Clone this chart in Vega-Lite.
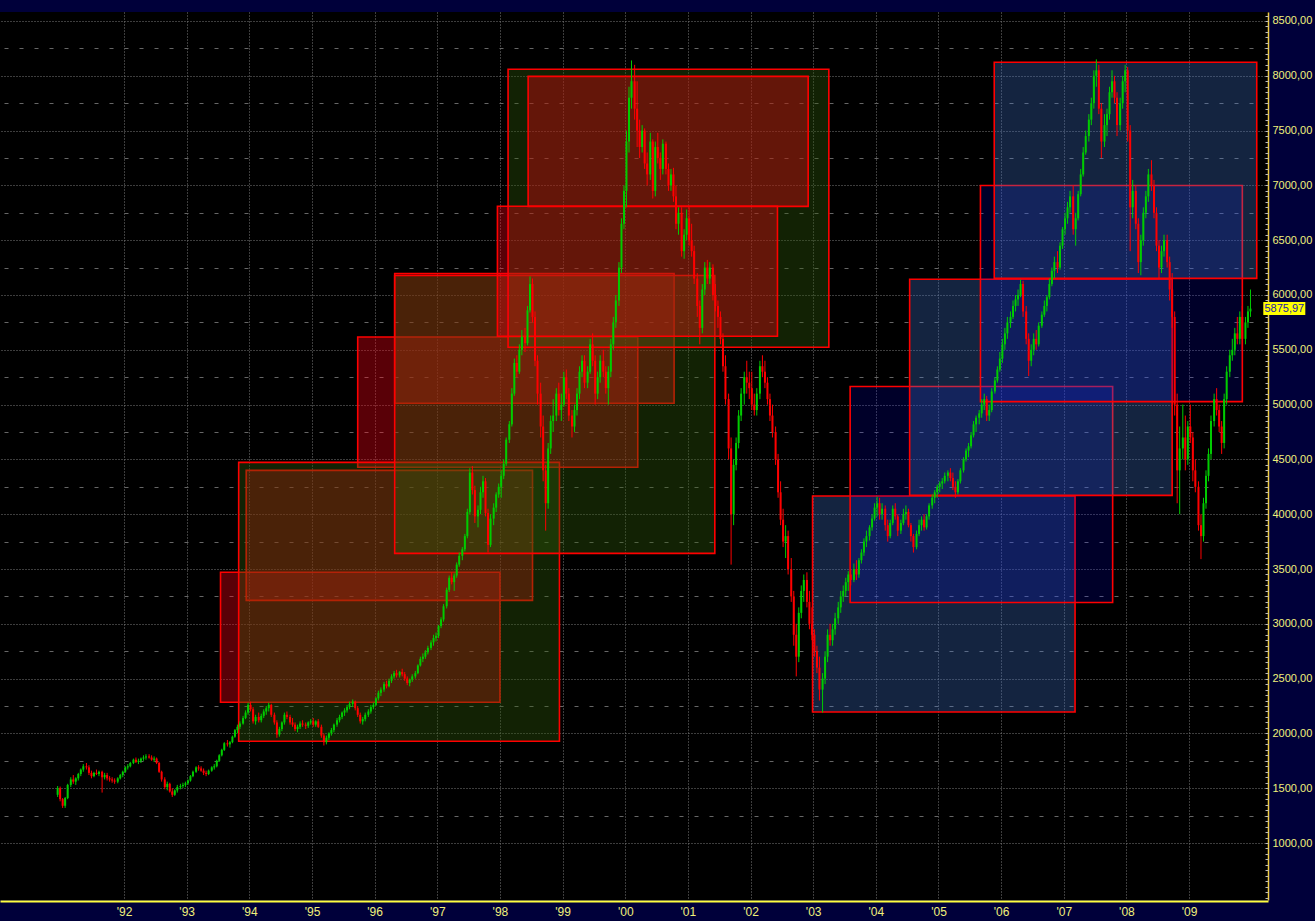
{
  "$schema": "https://vega.github.io/schema/vega-lite/v6.json",
  "width": 1268,
  "height": 888,
  "autosize": "none",
  "padding": {"left": 0, "top": 12, "right": 47, "bottom": 21},
  "background": "#00003a",
  "config": {
    "view": {"fill": "#000000", "stroke": null},
    "axis": {"title": null, "labelFont": "Liberation Sans", "labelFontSize": 11, "labelColor": "#f0f07a"}
  },
  "data": {
    "values": "t,o,h,l,c\n1990.94,1440,1520,1420,1500\n1990.98,1500,1515,1380,1400\n1991.02,1400,1410,1320,1340\n1991.06,1340,1420,1320,1410\n1991.10,1410,1540,1400,1530\n1991.15,1530,1600,1510,1580\n1991.19,1580,1620,1540,1560\n1991.23,1560,1600,1530,1590\n1991.27,1590,1640,1570,1630\n1991.31,1630,1680,1610,1670\n1991.35,1670,1720,1650,1700\n1991.40,1700,1730,1670,1690\n1991.44,1690,1710,1620,1640\n1991.48,1640,1660,1590,1610\n1991.52,1610,1650,1600,1640\n1991.56,1640,1670,1620,1630\n1991.60,1630,1660,1610,1650\n1991.65,1650,1660,1460,1600\n1991.69,1600,1640,1580,1620\n1991.73,1620,1640,1570,1590\n1991.77,1590,1610,1560,1580\n1991.81,1580,1600,1550,1570\n1991.85,1570,1590,1540,1560\n1991.90,1560,1600,1545,1590\n1991.94,1590,1630,1580,1620\n1991.98,1620,1660,1600,1650\n1992.02,1650,1700,1640,1690\n1992.06,1690,1720,1670,1700\n1992.10,1700,1740,1690,1730\n1992.15,1730,1770,1720,1760\n1992.19,1760,1780,1730,1740\n1992.23,1740,1770,1720,1750\n1992.27,1750,1780,1730,1770\n1992.31,1770,1800,1750,1780\n1992.35,1780,1810,1760,1790\n1992.40,1790,1810,1770,1780\n1992.44,1780,1800,1750,1760\n1992.48,1760,1790,1740,1770\n1992.52,1770,1780,1720,1730\n1992.56,1730,1740,1640,1650\n1992.60,1650,1660,1560,1580\n1992.65,1580,1600,1490,1510\n1992.69,1510,1560,1480,1540\n1992.73,1540,1550,1460,1470\n1992.77,1470,1500,1420,1440\n1992.81,1440,1490,1430,1480\n1992.85,1480,1530,1460,1510\n1992.90,1510,1540,1490,1520\n1992.94,1520,1550,1500,1530\n1992.98,1530,1560,1510,1545\n1993.02,1545,1580,1530,1570\n1993.06,1570,1620,1560,1610\n1993.10,1610,1660,1600,1650\n1993.15,1650,1700,1640,1690\n1993.19,1690,1710,1660,1680\n1993.23,1680,1700,1650,1660\n1993.27,1660,1680,1620,1640\n1993.31,1640,1660,1610,1630\n1993.35,1630,1670,1620,1660\n1993.40,1660,1700,1650,1690\n1993.44,1690,1720,1670,1700\n1993.48,1700,1760,1690,1750\n1993.52,1750,1810,1740,1800\n1993.56,1800,1860,1790,1850\n1993.60,1850,1920,1840,1910\n1993.65,1910,1940,1880,1900\n1993.69,1900,1930,1870,1920\n1993.73,1920,1980,1910,1970\n1993.77,1970,2040,1960,2030\n1993.81,2030,2080,2000,2060\n1993.85,2060,2110,2040,2090\n1993.90,2090,2160,2080,2140\n1993.94,2140,2210,2130,2190\n1993.98,2190,2280,2170,2260\n1994.02,2260,2290,2200,2220\n1994.06,2220,2240,2090,2110\n1994.10,2110,2170,2080,2150\n1994.15,2150,2190,2100,2120\n1994.19,2120,2180,2100,2160\n1994.23,2160,2220,2140,2200\n1994.27,2200,2250,2170,2230\n1994.31,2230,2280,2200,2260\n1994.35,2260,2270,2150,2170\n1994.40,2170,2190,2080,2100\n1994.44,2100,2120,1960,1990\n1994.48,1990,2060,1970,2040\n1994.52,2040,2110,2020,2100\n1994.56,2100,2190,2080,2170\n1994.60,2170,2200,2130,2150\n1994.65,2150,2170,2080,2100\n1994.69,2100,2140,2060,2080\n1994.73,2080,2100,2020,2040\n1994.77,2040,2080,2010,2060\n1994.81,2060,2110,2040,2090\n1994.85,2090,2120,2060,2080\n1994.90,2080,2100,2040,2070\n1994.94,2070,2110,2050,2100\n1994.98,2100,2130,2080,2110\n1995.02,2110,2140,2060,2080\n1995.06,2080,2120,2060,2110\n1995.10,2110,2130,2050,2060\n1995.15,2060,2080,1960,1980\n1995.19,1980,2000,1890,1920\n1995.23,1920,1980,1900,1960\n1995.27,1960,2010,1940,2000\n1995.31,2000,2050,1980,2030\n1995.35,2030,2090,2010,2080\n1995.40,2080,2140,2060,2120\n1995.44,2120,2170,2100,2150\n1995.48,2150,2200,2130,2190\n1995.52,2190,2230,2160,2210\n1995.56,2210,2260,2190,2240\n1995.60,2240,2290,2220,2270\n1995.65,2270,2310,2240,2290\n1995.69,2290,2300,2210,2230\n1995.73,2230,2250,2150,2170\n1995.77,2170,2190,2090,2110\n1995.81,2110,2150,2080,2130\n1995.85,2130,2190,2110,2170\n1995.90,2170,2220,2150,2200\n1995.94,2200,2260,2180,2240\n1995.98,2240,2280,2220,2260\n1996.02,2260,2330,2250,2320\n1996.06,2320,2390,2300,2370\n1996.10,2370,2420,2340,2400\n1996.15,2400,2470,2380,2450\n1996.19,2450,2480,2410,2430\n1996.23,2430,2500,2420,2480\n1996.27,2480,2540,2460,2520\n1996.31,2520,2570,2500,2550\n1996.35,2550,2580,2510,2530\n1996.40,2530,2570,2510,2560\n1996.44,2560,2590,2520,2540\n1996.48,2540,2560,2480,2500\n1996.52,2500,2520,2440,2460\n1996.56,2460,2500,2430,2490\n1996.60,2490,2540,2470,2520\n1996.65,2520,2570,2500,2550\n1996.69,2550,2630,2540,2620\n1996.73,2620,2700,2610,2680\n1996.77,2680,2730,2650,2700\n1996.81,2700,2760,2680,2740\n1996.85,2740,2800,2720,2780\n1996.90,2780,2850,2760,2830\n1996.94,2830,2900,2800,2870\n1996.98,2870,2920,2840,2890\n1997.02,2890,2990,2870,2980\n1997.06,2980,3060,2960,3040\n1997.10,3040,3180,3020,3160\n1997.15,3160,3330,3140,3310\n1997.19,3310,3440,3290,3420\n1997.23,3420,3470,3360,3380\n1997.27,3380,3460,3300,3440\n1997.31,3440,3560,3420,3540\n1997.35,3540,3650,3520,3620\n1997.40,3620,3700,3580,3680\n1997.44,3680,3820,3660,3800\n1997.48,3800,4050,3780,4020\n1997.52,4020,4420,4000,4380\n1997.56,4380,4440,4180,4220\n1997.60,4220,4260,3920,3980\n1997.65,3980,4080,3880,4040\n1997.69,4040,4250,4000,4200\n1997.73,4200,4350,4150,4300\n1997.77,4300,4330,3980,4010\n1997.81,4010,4050,3650,3720\n1997.85,3720,4000,3700,3960\n1997.90,3960,4100,3900,4060\n1997.94,4060,4200,4020,4180\n1997.98,4180,4280,4150,4250\n1998.02,4250,4400,4150,4350\n1998.06,4350,4500,4320,4460\n1998.10,4460,4700,4440,4680\n1998.15,4680,4850,4650,4820\n1998.19,4820,5150,4800,5100\n1998.23,5100,5420,5080,5380\n1998.27,5380,5450,5250,5300\n1998.31,5300,5550,5280,5500\n1998.35,5500,5680,5450,5620\n1998.40,5620,5700,5480,5560\n1998.44,5560,5900,5540,5860\n1998.48,5860,6170,5840,6100\n1998.52,6100,6150,5750,5800\n1998.56,5800,5850,5350,5400\n1998.60,5400,5450,5000,5100\n1998.65,5100,5200,4700,4800\n1998.69,4800,4900,4300,4400\n1998.73,4400,4450,3850,4100\n1998.77,4100,4650,4050,4600\n1998.81,4600,4900,4550,4850\n1998.85,4850,5050,4750,4900\n1998.90,4900,5150,4850,5100\n1998.94,5100,5200,4900,4950\n1998.98,4950,5100,4850,5000\n1999.02,5000,5300,4980,5250\n1999.06,5250,5320,5050,5100\n1999.10,5100,5150,4850,4900\n1999.15,4900,4950,4700,4800\n1999.19,4800,5000,4750,4950\n1999.23,4950,5150,4900,5100\n1999.27,5100,5350,5050,5300\n1999.31,5300,5450,5250,5400\n1999.35,5400,5450,5150,5200\n1999.40,5200,5350,5150,5300\n1999.44,5300,5600,5280,5550\n1999.48,5550,5650,5350,5400\n1999.52,5400,5450,5000,5100\n1999.56,5100,5300,5050,5250\n1999.60,5250,5450,5200,5400\n1999.65,5400,5500,5250,5300\n1999.69,5300,5350,5100,5150\n1999.73,5150,5350,5000,5300\n1999.77,5300,5600,5250,5550\n1999.81,5550,5800,5500,5750\n1999.85,5750,6000,5700,5950\n1999.90,5950,6300,5900,6250\n1999.94,6250,6700,6200,6650\n1999.98,6650,7000,6600,6950\n2000.02,6950,7500,6800,7400\n2000.06,7400,7900,7300,7800\n2000.10,7800,8140,7700,7950\n2000.15,7950,8100,7600,7700\n2000.19,7700,7950,7350,7500\n2000.23,7500,7600,7250,7350\n2000.27,7350,7550,7300,7500\n2000.31,7500,7520,7150,7200\n2000.35,7200,7300,7000,7100\n2000.40,7100,7480,7050,7400\n2000.44,7400,7420,6880,6950\n2000.48,6950,7400,6900,7350\n2000.52,7350,7480,7200,7250\n2000.56,7250,7300,7050,7150\n2000.60,7150,7420,7100,7380\n2000.65,7380,7400,7100,7150\n2000.69,7150,7200,6950,7000\n2000.73,7000,7150,6950,7100\n2000.77,7100,7160,6850,6900\n2000.81,6900,7000,6600,6650\n2000.85,6650,6800,6550,6750\n2000.90,6750,6800,6350,6400\n2000.94,6400,6600,6330,6550\n2000.98,6550,6780,6500,6700\n2001.02,6700,6800,6450,6500\n2001.06,6500,6650,6350,6400\n2001.10,6400,6450,6100,6150\n2001.15,6150,6200,5800,5900\n2001.19,5900,5950,5550,5700\n2001.23,5700,6100,5650,6050\n2001.27,6050,6300,6000,6250\n2001.31,6250,6320,6100,6150\n2001.35,6150,6300,6100,6250\n2001.40,6250,6280,5950,6000\n2001.44,6000,6100,5850,5900\n2001.48,5900,5950,5700,5800\n2001.52,5800,5850,5550,5600\n2001.56,5600,5650,5300,5350\n2001.60,5350,5450,5000,5050\n2001.65,5050,5100,4500,4600\n2001.69,4600,4700,3540,4000\n2001.73,4000,4500,3900,4450\n2001.77,4450,4700,4400,4650\n2001.81,4650,4950,4600,4900\n2001.85,4900,5150,4850,5100\n2001.90,5100,5300,5000,5250\n2001.94,5250,5400,5100,5200\n2001.98,5200,5300,5050,5150\n2002.02,5150,5300,4950,5000\n2002.06,5000,5100,4900,4950\n2002.10,4950,5150,4900,5100\n2002.15,5100,5400,5050,5350\n2002.19,5350,5450,5250,5300\n2002.23,5300,5400,5150,5200\n2002.27,5200,5250,5000,5050\n2002.31,5050,5100,4850,4900\n2002.35,4900,5000,4700,4750\n2002.40,4750,4800,4450,4500\n2002.44,4500,4550,4150,4200\n2002.48,4200,4300,3900,3950\n2002.52,3950,4050,3700,3750\n2002.56,3750,3900,3600,3800\n2002.60,3800,3850,3450,3500\n2002.65,3500,3600,3200,3250\n2002.69,3250,3300,2800,2900\n2002.73,2900,3000,2520,2700\n2002.77,2700,3150,2650,3100\n2002.81,3100,3350,3050,3300\n2002.85,3300,3450,3200,3400\n2002.90,3400,3470,3150,3200\n2002.94,3200,3300,2950,3000\n2002.98,3000,3150,2850,2900\n2003.02,2900,2950,2700,2750\n2003.06,2750,2800,2550,2600\n2003.10,2600,2700,2300,2400\n2003.15,2400,2550,2190,2500\n2003.19,2500,2750,2450,2700\n2003.23,2700,2950,2650,2900\n2003.27,2900,3000,2800,2850\n2003.31,2850,3000,2800,2950\n2003.35,2950,3100,2900,3050\n2003.40,3050,3200,3000,3150\n2003.44,3150,3300,3100,3250\n2003.48,3250,3350,3200,3300\n2003.52,3300,3420,3250,3380\n2003.56,3380,3480,3300,3450\n2003.60,3450,3500,3350,3400\n2003.65,3400,3550,3380,3500\n2003.69,3500,3580,3400,3450\n2003.73,3450,3600,3420,3580\n2003.77,3580,3680,3550,3650\n2003.81,3650,3780,3620,3750\n2003.85,3750,3850,3700,3800\n2003.90,3800,3900,3760,3880\n2003.94,3880,4000,3850,3960\n2003.98,3960,4100,3940,4060\n2004.02,4060,4160,3980,4100\n2004.06,4100,4150,3950,4000\n2004.10,4000,4100,3950,4050\n2004.15,4050,4080,3850,3900\n2004.19,3900,3950,3750,3800\n2004.23,3800,3950,3780,3920\n2004.27,3920,4080,3900,4050\n2004.31,4050,4100,3950,3980\n2004.35,3980,4000,3800,3850\n2004.40,3850,3950,3820,3920\n2004.44,3920,4050,3900,4000\n2004.48,4000,4080,3950,4020\n2004.52,4020,4050,3880,3900\n2004.56,3900,3920,3750,3800\n2004.60,3800,3820,3650,3700\n2004.65,3700,3850,3680,3820\n2004.69,3820,3950,3800,3900\n2004.73,3900,3980,3850,3950\n2004.77,3950,4000,3850,3880\n2004.81,3880,4000,3860,3980\n2004.85,3980,4100,3950,4080\n2004.90,4080,4180,4050,4150\n2004.94,4150,4220,4100,4200\n2004.98,4200,4270,4150,4250\n2005.02,4250,4300,4200,4280\n2005.06,4280,4330,4230,4300\n2005.10,4300,4380,4280,4350\n2005.15,4350,4400,4300,4380\n2005.19,4380,4420,4300,4330\n2005.23,4330,4380,4220,4250\n2005.27,4250,4300,4150,4200\n2005.31,4200,4320,4180,4300\n2005.35,4300,4420,4280,4400\n2005.40,4400,4520,4380,4500\n2005.44,4500,4600,4480,4580\n2005.48,4580,4650,4520,4620\n2005.52,4620,4750,4600,4720\n2005.56,4720,4850,4700,4820\n2005.60,4820,4900,4750,4880\n2005.65,4880,4950,4820,4920\n2005.69,4920,5050,4880,5000\n2005.73,5000,5100,4950,5050\n2005.77,5050,5080,4850,4900\n2005.81,4900,5000,4850,4950\n2005.85,4950,5150,4930,5120\n2005.90,5120,5250,5100,5220\n2005.94,5220,5350,5200,5320\n2005.98,5320,5480,5300,5420\n2006.02,5420,5600,5380,5550\n2006.06,5550,5700,5500,5650\n2006.10,5650,5800,5600,5750\n2006.15,5750,5850,5700,5800\n2006.19,5800,5950,5780,5900\n2006.23,5900,6000,5850,5960\n2006.27,5960,6050,5900,6000\n2006.31,6000,6140,5980,6100\n2006.35,6100,6130,5800,5850\n2006.40,5850,5900,5550,5600\n2006.44,5600,5650,5260,5400\n2006.48,5400,5550,5350,5500\n2006.52,5500,5650,5450,5600\n2006.56,5600,5680,5500,5550\n2006.60,5550,5750,5530,5720\n2006.65,5720,5850,5700,5820\n2006.69,5820,5950,5800,5900\n2006.73,5900,6000,5850,5980\n2006.77,5980,6150,5960,6100\n2006.81,6100,6250,6080,6220\n2006.85,6220,6350,6150,6300\n2006.90,6300,6400,6200,6250\n2006.94,6250,6480,6230,6450\n2006.98,6450,6620,6420,6600\n2007.02,6600,6750,6550,6700\n2007.06,6700,6850,6650,6800\n2007.10,6800,6950,6750,6900\n2007.15,6900,7000,6550,6600\n2007.19,6600,6750,6450,6700\n2007.23,6700,6950,6680,6920\n2007.27,6920,7150,6900,7100\n2007.31,7100,7350,7080,7300\n2007.35,7300,7500,7280,7450\n2007.40,7450,7650,7400,7600\n2007.44,7600,7800,7550,7750\n2007.48,7750,8050,7700,8000\n2007.52,8000,8150,7900,8050\n2007.56,8050,8100,7650,7700\n2007.60,7700,7750,7250,7400\n2007.65,7400,7650,7350,7550\n2007.69,7550,7700,7450,7650\n2007.73,7650,7900,7600,7850\n2007.77,7850,8050,7800,7950\n2007.81,7950,8000,7750,7800\n2007.85,7800,7850,7450,7550\n2007.90,7550,7800,7500,7750\n2007.94,7750,8000,7700,7950\n2007.98,7950,8100,7850,8050\n2008.02,8050,8080,7400,7500\n2008.06,7500,7550,6400,6800\n2008.10,6800,7050,6700,6950\n2008.15,6950,7000,6600,6650\n2008.19,6650,6700,6200,6300\n2008.23,6300,6550,6180,6500\n2008.27,6500,6800,6450,6750\n2008.31,6750,6950,6700,6900\n2008.35,6900,7150,6850,7100\n2008.40,7100,7230,6950,7000\n2008.44,7000,7050,6700,6750\n2008.48,6750,6800,6400,6450\n2008.52,6450,6500,6150,6250\n2008.56,6250,6450,6200,6400\n2008.60,6400,6550,6350,6500\n2008.65,6500,6550,6250,6300\n2008.69,6300,6350,5950,6050\n2008.73,6050,6200,5700,5800\n2008.77,5800,5850,4900,5000\n2008.81,5000,5100,4100,4400\n2008.85,4400,4800,4000,4600\n2008.90,4600,5000,4500,4700\n2008.94,4700,4900,4400,4500\n2008.98,4500,4850,4450,4800\n2009.02,4800,5000,4650,4700\n2009.06,4700,4750,4300,4400\n2009.10,4400,4500,4200,4250\n2009.15,4250,4300,3850,3900\n2009.19,3900,4000,3590,3800\n2009.23,3800,4150,3750,4100\n2009.27,4100,4400,4050,4350\n2009.31,4350,4600,4300,4550\n2009.35,4550,4900,4500,4850\n2009.40,4850,5100,4800,5050\n2009.44,5050,5150,4900,4950\n2009.48,4950,5000,4750,4800\n2009.52,4800,4850,4550,4650\n2009.56,4650,5100,4600,5050\n2009.60,5050,5350,5000,5300\n2009.65,5300,5500,5250,5450\n2009.69,5450,5600,5400,5500\n2009.73,5500,5700,5450,5650\n2009.77,5650,5800,5550,5600\n2009.81,5600,5850,5550,5800\n2009.85,5800,5900,5500,5600\n2009.90,5600,5800,5550,5750\n2009.94,5750,5900,5700,5850\n2009.98,5850,6050,5800,5876",
    "format": {"type": "csv", "parse": {"t": "number", "o": "number", "h": "number", "l": "number", "c": "number"}}
  },
  "layer": [
    {
      "data": {
        "values": [
          {"a": 1993.54, "b": 1998.00, "lo": 2284, "hi": 3470, "k": "red"},
          {"a": 1993.95, "b": 1998.52, "lo": 3214, "hi": 4400, "k": "red"},
          {"a": 1995.73, "b": 2000.20, "lo": 4428, "hi": 5617, "k": "red"},
          {"a": 1996.32, "b": 2000.78, "lo": 5012, "hi": 6196, "k": "red"},
          {"a": 1993.83, "b": 1998.95, "lo": 1928, "hi": 4473, "k": "green"},
          {"a": 1996.32, "b": 2001.43, "lo": 3643, "hi": 6178, "k": "green"},
          {"a": 1998.13, "b": 2003.25, "lo": 5523, "hi": 8059, "k": "green"},
          {"a": 1998.45, "b": 2002.92, "lo": 6809, "hi": 7995, "k": "red"},
          {"a": 1997.96, "b": 2002.43, "lo": 5623, "hi": 6810, "k": "red"},
          {"a": 2002.99, "b": 2007.18, "lo": 2195, "hi": 4166, "k": "slate"},
          {"a": 2003.59, "b": 2007.78, "lo": 3194, "hi": 5165, "k": "navy"},
          {"a": 2004.54, "b": 2008.73, "lo": 4172, "hi": 6143, "k": "slate"},
          {"a": 2005.67, "b": 2009.85, "lo": 5027, "hi": 6999, "k": "navy"},
          {"a": 2005.89, "b": 2010.08, "lo": 6152, "hi": 8123, "k": "slate"}
        ]
      },
      "mark": {"type": "rect", "stroke": "#ff0000", "strokeWidth": 1.6},
      "encoding": {
        "x": {
          "field": "a", "type": "quantitative",
          "scale": {"domain": [1990.1, 2010.18], "nice": false, "zero": false},
          "axis": {
            "values": [1992, 1993, 1994, 1995, 1996, 1997, 1998, 1999, 2000, 2001, 2002, 2003, 2004, 2005, 2006, 2007, 2008, 2009],
            "labelExpr": "\"'\" + format(datum.value % 100, '02d')",
            "grid": true, "gridColor": "#7a7a7a", "gridDash": [1, 2],
            "domainColor": "#ffff40", "domainWidth": 2, "offset": 1,
            "ticks": false, "labelPadding": 5, "labelFlush": false, "labelFontSize": 12
          }
        },
        "x2": {"field": "b"},
        "y": {
          "field": "lo", "type": "quantitative",
          "scale": {"domain": [480, 8582], "nice": false, "zero": false},
          "axis": {
            "orient": "right",
            "values": [1000, 1500, 2000, 2500, 3000, 3500, 4000, 4500, 5000, 5500, 6000, 6500, 7000, 7500, 8000, 8500],
            "labelExpr": "replace(format(datum.value, '.2f'), '.', ',')",
            "grid": true, "gridColor": "#7a7a7a", "gridDash": [1, 2],
            "domainColor": "#f0cc40", "domainWidth": 1.5,
            "ticks": false, "labelPadding": 4
          }
        },
        "y2": {"field": "hi"},
        "color": {
          "field": "k", "type": "nominal", "legend": null,
          "scale": {"domain": ["red", "green", "slate", "navy"], "range": ["#ff0014", "#315c0b", "#4378d5", "#0000ff"]}
        },
        "fillOpacity": {
          "condition": [
            {"test": "datum.k === 'red'", "value": 0.35},
            {"test": "datum.k === 'green'", "value": 0.37},
            {"test": "datum.k === 'navy'", "value": 0.16}
          ],
          "value": 0.3
        }
      }
    },
    {
      "mark": {"type": "rule", "strokeWidth": 1},
      "encoding": {
        "x": {"field": "t", "type": "quantitative", "scale": {"domain": [1990.1, 2010.18], "nice": false, "zero": false}},
        "y": {
          "field": "l", "type": "quantitative",
          "scale": {"domain": [480, 8582], "nice": false, "zero": false},
          "axis": {
            "orient": "right",
            "values": [1250, 1750, 2250, 2750, 3250, 3750, 4250, 4750, 5250, 5750, 6250, 6750, 7250, 7750, 8250],
            "grid": true, "gridColor": "#666666", "gridDash": [4, 11],
            "labels": false, "ticks": false, "domain": false
          }
        },
        "y2": {"field": "h"},
        "color": {"condition": {"test": "datum.c >= datum.o", "value": "#00cc00"}, "value": "#ff0000"}
      }
    },
    {
      "mark": {"type": "bar", "size": 2},
      "encoding": {
        "x": {"field": "t", "type": "quantitative", "scale": {"domain": [1990.1, 2010.18], "nice": false, "zero": false}},
        "y": {
          "field": "o", "type": "quantitative",
          "scale": {"domain": [480, 8582], "nice": false, "zero": false},
          "axis": {
            "orient": "right", "tickCount": 162,
            "grid": false, "labels": false, "domain": false,
            "ticks": true, "tickSize": -3, "tickColor": "#bbbbbb", "tickWidth": 1
          }
        },
        "y2": {"field": "c"},
        "color": {"condition": {"test": "datum.c >= datum.o", "value": "#00cc00"}, "value": "#ff0000"}
      }
    },
    {
      "data": {"values": [{"p": 5875.97, "s": "5875,97"}]},
      "layer": [
        {
          "mark": {"type": "tick", "orient": "horizontal", "thickness": 13, "size": 42, "color": "#ffff00", "opacity": 1},
          "encoding": {
            "x": {"datum": 2010.52, "type": "quantitative", "scale": {"domain": [1990.1, 2010.18], "nice": false, "zero": false}},
            "y": {"field": "p", "type": "quantitative", "scale": {"domain": [480, 8582], "nice": false, "zero": false}, "axis": null}
          }
        },
        {
          "mark": {"type": "text", "font": "Liberation Sans", "fontSize": 11, "color": "#1a1aa8", "align": "center", "baseline": "middle"},
          "encoding": {
            "x": {"datum": 2010.52, "type": "quantitative", "scale": {"domain": [1990.1, 2010.18], "nice": false, "zero": false}},
            "y": {"field": "p", "type": "quantitative", "scale": {"domain": [480, 8582], "nice": false, "zero": false}, "axis": null},
            "text": {"field": "s"}
          }
        }
      ]
    }
  ],
  "resolve": {"axis": {"y": "independent"}}
}
